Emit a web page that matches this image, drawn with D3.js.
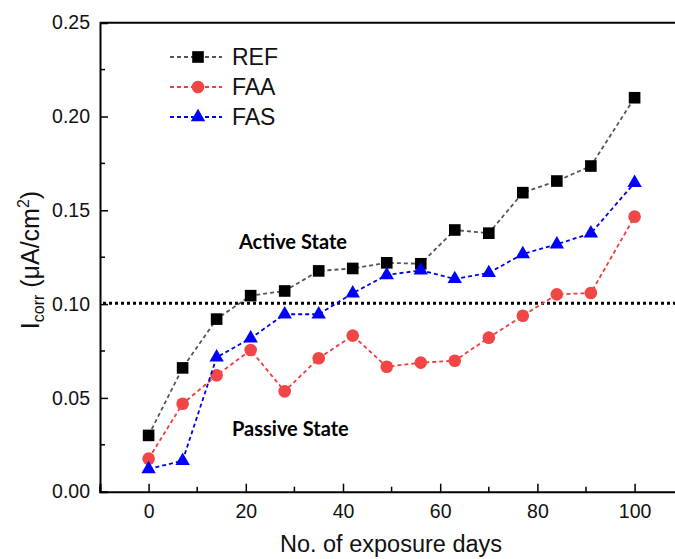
<!DOCTYPE html>
<html>
<head>
<meta charset="utf-8">
<script src="https://cdn.jsdelivr.net/npm/d3@7"></script>
<style>
  body { margin: 0; background: #fff; }
  svg { display: block; }
</style>
</head>
<body>
<div class="canvas"></div>
<script>
// exposure days and corrosion current values (uA/cm2)
const days = [0, 7, 14, 21, 28, 35, 42, 49, 56, 63, 70, 77, 84, 91, 100];
const ref = [0.030, 0.066, 0.092, 0.1045, 0.107, 0.1177, 0.119, 0.122, 0.1215, 0.1395, 0.1378, 0.1594, 0.1656, 0.1736, 0.210];
const faa = [0.0176, 0.0469, 0.062, 0.0755, 0.0535, 0.0711, 0.0832, 0.0666, 0.0688, 0.0698, 0.0821, 0.0938, 0.1052, 0.1059, 0.1466];
const fas = [0.0121, 0.0165, 0.0716, 0.0818, 0.0946, 0.0946, 0.1058, 0.1155, 0.118, 0.1134, 0.1166, 0.1267, 0.1319, 0.1377, 0.1647];
const xTicks = [0, 20, 40, 60, 80, 100];
const yTicks = [0.00, 0.05, 0.10, 0.15, 0.20, 0.25];
const threshold = 0.1004;

const W = 675, H = 559;
const mLeft = 100, mTop = 22.7, mBottom = 491.7;
const font = "Liberation Sans, Arial, sans-serif";

const svg = d3.select(".canvas").append("svg").attr("width", W).attr("height", H);

const x = d3.scaleLinear().domain([-10, 110]).range([mLeft, mLeft + 120 * 4.86]);
const y = d3.scaleLinear().domain([0, 0.25]).range([mBottom, mTop]);

// axes (ticks inward)
const xAxis = d3.axisBottom(x).tickValues(xTicks).tickSize(-8).tickPadding(12).tickFormat(d3.format("d"));
const yAxis = d3.axisLeft(y).tickValues(yTicks).tickSize(-8).tickPadding(10).tickFormat(d3.format(".2f"));

const gx = svg.append("g").attr("transform", `translate(0,${mBottom})`).call(xAxis);
const gy = svg.append("g").attr("transform", `translate(${mLeft},0)`).call(yAxis);

// minor ticks
svg.append("g").selectAll("line").data([-10, 10, 30, 50, 70, 90, 110]).join("line")
  .attr("x1", d => x(d)).attr("x2", d => x(d)).attr("y1", mBottom).attr("y2", mBottom - 5)
  .attr("stroke", "#000").attr("stroke-width", 1.5);
svg.append("g").selectAll("line").data([0.025, 0.075, 0.125, 0.175, 0.225]).join("line")
  .attr("x1", mLeft).attr("x2", mLeft + 5).attr("y1", d => y(d)).attr("y2", d => y(d))
  .attr("stroke", "#000").attr("stroke-width", 1.5);

[gx, gy].forEach(g => {
  g.select(".domain").attr("stroke-width", 2);
  g.selectAll(".tick line").attr("stroke-width", 1.5);
  g.selectAll("text").attr("font-family", font).attr("font-size", 19.5).attr("fill", "#111");
});
gy.selectAll(".tick").filter(d => d === 0).select("line").remove();

// top frame line
svg.append("line").attr("x1", mLeft).attr("x2", W).attr("y1", mTop).attr("y2", mTop)
  .attr("stroke", "#000").attr("stroke-width", 2);

// threshold dotted line
svg.append("line").attr("x1", mLeft + 3).attr("x2", W).attr("y1", y(threshold)).attr("y2", y(threshold))
  .attr("stroke", "#000").attr("stroke-width", 3).attr("stroke-dasharray", "3,3");

const series = [
  { name: "REF", vals: ref, line: "#555", fill: "#000", shape: d3.symbolSquare, size: 135 },
  { name: "FAA", vals: faa, line: "#f03c3c", fill: "#f04646", shape: d3.symbolCircle, size: 125 },
  { name: "FAS", vals: fas, line: "#0000ee", fill: "#0000ff", shape: d3.symbolTriangle, size: 90 }
];

const line = d3.line().x((d, i) => x(days[i])).y(d => y(d));

series.forEach(s => {
  svg.append("path").datum(s.vals).attr("d", line)
    .attr("fill", "none").attr("stroke", s.line).attr("stroke-width", 1.8).attr("stroke-dasharray", "4,3");
  svg.append("g").selectAll("path").data(s.vals).join("path")
    .attr("transform", (d, i) => `translate(${x(days[i])},${y(d)})`)
    .attr("d", d3.symbol().type(s.shape).size(s.size))
    .attr("fill", s.fill);
});

// legend
const leg = svg.append("g");
series.forEach((s, i) => {
  const ly = 57 + i * 30;
  leg.append("line").attr("x1", 170).attr("x2", 222).attr("y1", ly).attr("y2", ly)
    .attr("stroke", s.line).attr("stroke-width", 1.8).attr("stroke-dasharray", "4,3");
  leg.append("path").attr("transform", `translate(198,${ly})`)
    .attr("d", d3.symbol().type(s.shape).size(s.size)).attr("fill", s.fill);
  leg.append("text").attr("x", 232).attr("y", ly + 8).text(s.name)
    .attr("font-family", font).attr("font-size", 23).attr("fill", "#111");
});

// state labels
svg.append("text").attr("x", 239).attr("y", 249).text("Active State")
  .attr("font-family", "Lato, sans-serif").attr("font-weight", "bold").attr("font-size", 20);
svg.append("text").attr("x", 232).attr("y", 436).text("Passive State")
  .attr("font-family", "Lato, sans-serif").attr("font-weight", "bold").attr("font-size", 20);

// axis titles
svg.append("text").attr("x", 391).attr("y", 552).attr("text-anchor", "middle")
  .attr("font-family", font).attr("font-size", 23.5).attr("fill", "#111")
  .text("No. of exposure days");

const yl = svg.append("text").attr("transform", "translate(39,260) rotate(-90)").attr("text-anchor", "middle")
  .attr("font-family", font).attr("font-size", 25).attr("fill", "#111");
yl.append("tspan").text("I");
yl.append("tspan").attr("font-size", 16).attr("dy", 5).text("corr");
yl.append("tspan").attr("dy", -5).text(" (\u03bcA/cm");
yl.append("tspan").attr("font-size", 16).attr("dy", -10).text("2");
yl.append("tspan").attr("dy", 10).text(")");
</script>
</body>
</html>
